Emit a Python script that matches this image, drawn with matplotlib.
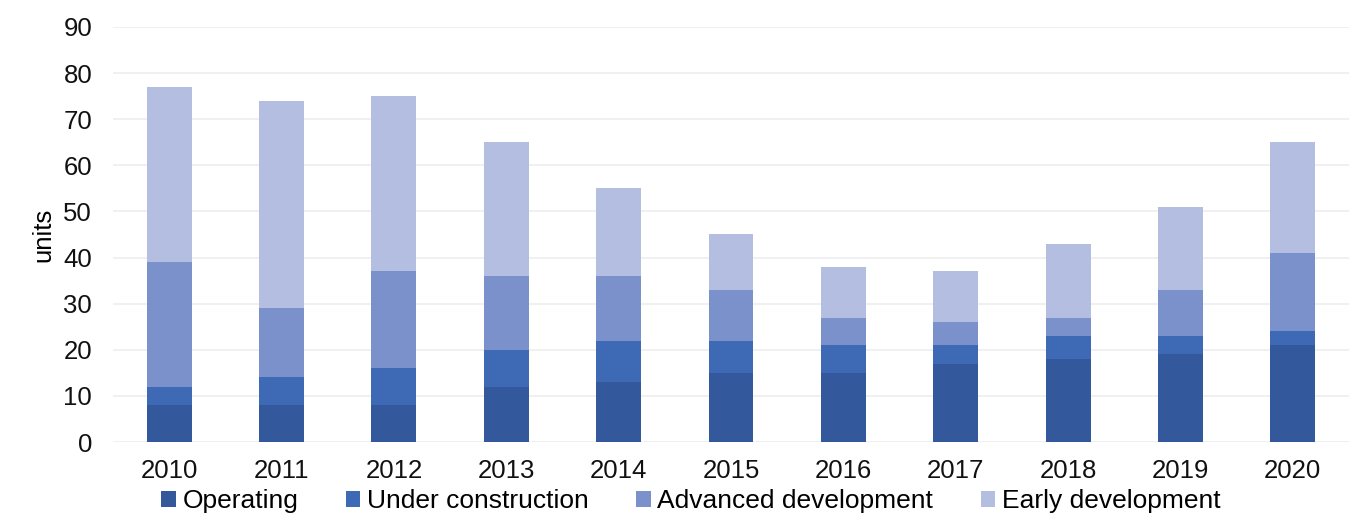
import matplotlib.pyplot as plt
import numpy as np

plt.rcParams['font.family'] = ['Liberation Sans', 'DejaVu Sans']

years = ['2010', '2011', '2012', '2013', '2014', '2015',
         '2016', '2017', '2018', '2019', '2020']
operating = [8, 8, 8, 12, 13, 15, 15, 17, 18, 19, 21]
under_construction = [4, 6, 8, 8, 9, 7, 6, 4, 5, 4, 3]
advanced = [27, 15, 21, 16, 14, 11, 6, 5, 4, 10, 17]
early = [38, 45, 38, 29, 19, 12, 11, 11, 16, 18, 24]

series = [
    ('Operating', operating, '#33599c'),
    ('Under construction', under_construction, '#3d69b5'),
    ('Advanced development', advanced, '#7a91cc'),
    ('Early development', early, '#b4bee0'),
]

fig = plt.figure(figsize=(13.58, 5.17), dpi=100)
ax = fig.add_axes([113 / 1358, 1 - 442 / 517, 1236 / 1358, 415 / 517])

x = np.arange(len(years))
bottom = np.zeros(len(years))
for name, vals, col in series:
    ax.bar(x, vals, width=0.4, bottom=bottom, color=col, label=name, zorder=3)
    bottom += np.array(vals)

ax.set_xlim(-0.5, len(years) - 0.5)
ax.set_ylim(0, 90)
ax.set_yticks(range(0, 91, 10))
ax.set_xticks(x)
ax.set_xticklabels(years)
ax.tick_params(axis='both', length=0, labelsize=18.5, colors='#111111')
ax.tick_params(axis='x', pad=12)
ax.tick_params(axis='y', pad=15)
ax.grid(axis='y', color='#eeeeee', linewidth=1.2, zorder=0)
for s in ax.spines.values():
    s.set_visible(False)
ax.set_ylabel('units', fontsize=18.5, labelpad=6)

fig.legend(loc='center', bbox_to_anchor=(691 / 1358, 1 - 501 / 517), ncol=4,
           frameon=False, fontsize=19, handlelength=0.55, handleheight=0.55,
           handletextpad=0.25, columnspacing=1.8, borderpad=0)

fig.savefig('out.png', dpi=100)
